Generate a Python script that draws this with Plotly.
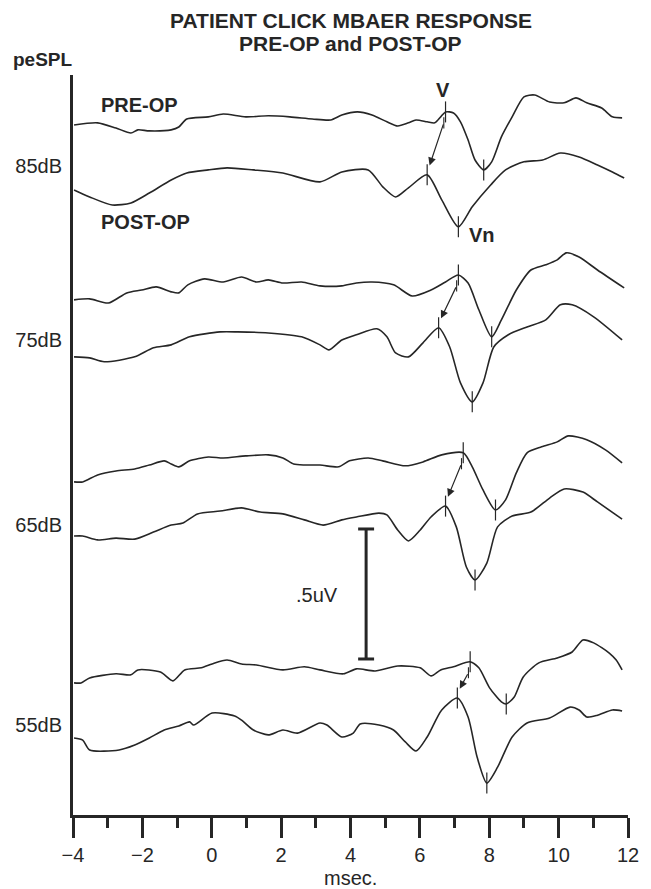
import numpy as np
import plotly.graph_objects as go

# ---------------------------------------------------------------------------
# Click MBAER sweeps: latency (ms) and amplitude (uV, relative to the first
# sample of each sweep).  One pre-op and one post-op sweep per level.
# ---------------------------------------------------------------------------
levels = ["85dB", "75dB", "65dB", "55dB"]

pre85_ms = [-3.97, -3.29, -2.76, -2.33, -2.13, -1.80, -1.17, -0.95, -0.72, -0.10, 0.33, 0.98, 1.63, 2.25,
            2.90, 3.43, 3.75, 4.20, 4.62, 5.05, 5.36, 5.67, 5.89, 6.21, 6.43, 6.60, 6.74, 6.97, 7.17, 7.39,
            7.59, 7.84, 8.07, 8.35, 8.66, 9.00, 9.31, 9.74, 10.16, 10.50, 10.81, 11.24, 11.55, 11.83]
pre85_uv = [0, .008, -.012, -.031, -.019, -.023, -.019, -.008, .023, .031, .042, .031, .035, .031,
            .023, .019, .038, .050, .038, .012, -.004, .008, .019, .012, .008, .031, .050, .046, .012, -.058,
            -.135, -.173, -.142, -.046, .031, .108, .115, .088, .085, .104, .085, .065, .031, .027]

post85_ms = [-3.97, -3.52, -2.87, -2.33, -1.80, -1.17, -0.72, -0.10, 0.44, 1.20, 2.05, 3.12, 3.75, 4.51,
             4.93, 5.30, 5.67, 6.21, 6.63, 7.11, 7.51, 8.04, 8.47, 9.00, 9.54, 10.05, 10.59, 11.12, 11.55, 11.89]
post85_uv = [0, -.027, -.058, -.050, -.012, .038, .065, .077, .085, .077, .065, .031, .069, .077,
             .012, -.027, .008, .058, -.038, -.142, -.065, .019, .077, .108, .115, .142, .127, .096, .069, .046]

pre75_ms = [-3.97, -3.52, -2.98, -2.45, -2.02, -1.60, -1.17, -0.95, -0.69, -0.21, 0.33, 0.86, 1.29, 1.63,
            2.05, 2.59, 3.12, 3.75, 4.17, 4.62, 5.24, 5.78, 6.32, 6.74, 7.11, 7.39, 7.70, 8.07, 8.35, 8.78,
            9.20, 9.63, 9.96, 10.22, 10.59, 11.12, 11.89]
pre75_uv = [0, .004, -.012, .027, .038, .050, .031, .027, .058, .081, .069, .088, .069, .077,
            .065, .069, .054, .054, .065, .069, .058, .015, .038, .069, .096, .065, -.038, -.142, -.077, .038,
            .115, .135, .154, .181, .165, .115, .046]

post75_ms = [-3.97, -3.52, -3.10, -2.22, -1.68, -1.17, -0.64, 0.24, 0.75, 1.63, 2.59, 3.12, 3.38, 3.75,
             4.17, 4.76, 5.05, 5.30, 5.67, 6.09, 6.54, 6.86, 7.17, 7.51, 7.82, 8.13, 8.55, 9.09, 9.63, 10.05,
             10.39, 11.01, 11.83]
post75_uv = [0, -.004, -.019, 0, .035, .046, .077, .096, .096, .092, .077, .046, .027, .065,
             .085, .108, .077, .015, 0, .054, .112, .038, -.100, -.173, -.100, .038, .085, .115, .142, .200,
             .200, .154, .065]

pre65_ms = [-3.97, -3.72, -3.29, -2.76, -2.22, -1.80, -1.37, -1.17, -0.95, -0.64, -0.10, 0.33, 0.98, 1.63,
            2.05, 2.36, 2.67, 3.12, 3.66, 3.97, 4.51, 4.93, 5.58, 6.09, 6.63, 7.25, 7.51, 7.82, 8.18, 8.47,
            8.78, 9.09, 9.51, 9.96, 10.28, 10.81, 11.35, 11.83]
pre65_uv = [0, 0, .027, .042, .050, .065, .081, .069, .058, .081, .096, .092, .100, .104,
            .092, .069, .065, .065, .058, .081, .092, .081, .062, .077, .104, .112, .058, -.031, -.108, -.069,
            .035, .112, .135, .154, .177, .162, .123, .073]

post65_ms = [-3.97, -3.72, -3.29, -2.76, -2.22, -1.68, -1.17, -0.83, -0.41, 0.24, 0.86, 1.40, 2.05, 2.67,
             3.21, 3.75, 4.17, 4.82, 5.05, 5.36, 5.67, 6.01, 6.32, 6.74, 7.05, 7.34, 7.59, 7.93, 8.24, 8.66,
             9.20, 9.74, 10.16, 10.70, 11.12, 11.83]
post65_uv = [0, 0, -.015, -.008, -.012, .015, .042, .050, .085, .096, .108, .092, .085, .062,
             .042, .062, .073, .088, .081, .023, -.019, .023, .073, .115, .035, -.119, -.169, -.104, .035, .077,
             .092, .146, .181, .169, .131, .065]

pre55_ms = [-3.97, -3.77, -3.52, -2.76, -2.33, -2.13, -1.48, -1.12, -0.78, -0.30, 0.01, 0.44, 0.86, 1.29,
            2.05, 2.67, 3.12, 3.80, 4.17, 4.71, 5.36, 6.01, 6.32, 6.60, 6.97, 7.45, 7.70, 8.01, 8.35, 8.49,
            8.72, 8.98, 9.43, 9.96, 10.39, 10.70, 11.01, 11.46, 11.66, 11.83]
pre55_uv = [0, 0, .019, .035, .031, .050, .042, .008, .050, .058, .073, .088, .073, .069,
            .050, .062, .050, .035, .054, .046, .065, .058, .027, .050, .062, .081, .058, -.019, -.073, -.081,
            -.054, .023, .077, .096, .119, .165, .154, .115, .088, .050]

post55_ms = [-3.97, -3.72, -3.52, -2.67, -2.22, -1.80, -1.37, -0.95, -0.64, -0.52, 0.01, 0.66, 0.86, 1.20,
             1.63, 2.05, 2.47, 3.12, 3.32, 3.75, 4.08, 4.28, 4.82, 5.24, 5.58, 5.89, 6.21, 6.63, 7.08, 7.39,
             7.65, 7.93, 8.24, 8.66, 9.09, 9.74, 10.33, 10.59, 10.81, 11.12, 11.55, 11.83]
post55_uv = [0, -.008, -.046, -.046, -.027, 0, .031, .046, .062, .050, .096, .085, .069, .031,
             .012, .031, .019, .058, .050, .004, .019, .054, .050, .031, -.015, -.050, .004, .108, .154, .081,
             -.073, -.173, -.112, .004, .058, .077, .119, .108, .081, .088, .108, .104]

# Marked peaks (ms): wave V and the following trough on each sweep
pre_v_ms = [6.74, 7.11, 7.25, 7.45]
pre_trough_ms = [7.84, 8.07, 8.18, 8.49]
post_v_ms = [6.21, 6.54, 6.74, 7.08]
post_vn_ms = [7.11, 7.51, 7.59, 7.93]

scale_bar_uv = 0.5
x_ticks = [-4, -2, 0, 2, 4, 6, 8, 10, 12]

# ---------------------------------------------------------------------------
# Stacking of the sweeps on the page (uV) and styling
# ---------------------------------------------------------------------------
pre_sweeps = [(pre85_ms, pre85_uv), (pre75_ms, pre75_uv), (pre65_ms, pre65_uv), (pre55_ms, pre55_uv)]
post_sweeps = [(post85_ms, post85_uv), (post75_ms, post75_uv), (post65_ms, post65_uv), (post55_ms, post55_uv)]
pre_base = [2.654, 1.981, 1.281, 0.508]
post_base = [2.404, 1.762, 1.073, 0.296]
level_label_y = [2.496, 1.827, 1.115, 0.346]
Y_TOP = 2.846
BAR_X, BAR_BOTTOM, CAP_HALF = 4.45, 0.60, 0.23

INK = "#262626"
FONT = "Liberation Sans, Arial, Helvetica, sans-serif"
TRACE_W = 1.6

fig = go.Figure()


def sweep_value(ms, uv, base, t):
    return float(np.interp(t, ms, uv)) + base


def add_sweep(ms, uv, base, marks):
    y = np.asarray(uv) + base
    fig.add_trace(go.Scatter(
        x=ms, y=y, mode="lines",
        line=dict(color=INK, width=TRACE_W, shape="spline", smoothing=0.7),
        hoverinfo="skip", showlegend=False))
    fig.add_trace(go.Scatter(
        x=marks, y=[sweep_value(ms, uv, base, t) for t in marks], mode="markers",
        marker=dict(symbol="line-ns", size=15, color=INK, line=dict(width=1.2, color=INK)),
        hoverinfo="skip", showlegend=False))


for i in range(len(levels)):
    ms, uv = pre_sweeps[i]
    add_sweep(ms, uv, pre_base[i], [pre_v_ms[i], pre_trough_ms[i]])
    ms2, uv2 = post_sweeps[i]
    add_sweep(ms2, uv2, post_base[i], [post_v_ms[i], post_vn_ms[i]])

    # arrow from the pre-op wave V to the post-op wave V
    tail_x = pre_v_ms[i] - 0.05
    tail_y = sweep_value(ms, uv, pre_base[i], pre_v_ms[i]) - 0.042
    head_x = post_v_ms[i] + 0.07
    head_y = sweep_value(ms2, uv2, post_base[i], post_v_ms[i]) + 0.036
    fig.add_trace(go.Scatter(
        x=[tail_x], y=[tail_y], mode="markers",
        marker=dict(symbol="line-ns", size=8, color=INK, line=dict(width=1.1, color=INK)),
        hoverinfo="skip", showlegend=False))
    fig.add_annotation(
        x=head_x, y=head_y, ax=tail_x, ay=tail_y, xref="x", yref="y", axref="x", ayref="y",
        showarrow=True, arrowhead=2, arrowsize=1.3, arrowwidth=1.2, arrowcolor=INK,
        standoff=0, startstandoff=0, text="")

# .5uV calibration bar
bar_top = BAR_BOTTOM + scale_bar_uv
fig.add_trace(go.Scatter(
    x=[BAR_X - CAP_HALF, BAR_X + CAP_HALF, None, BAR_X, BAR_X, None, BAR_X - CAP_HALF, BAR_X + CAP_HALF],
    y=[bar_top, bar_top, None, bar_top, BAR_BOTTOM, None, BAR_BOTTOM, BAR_BOTTOM],
    mode="lines", line=dict(color=INK, width=3), hoverinfo="skip", showlegend=False))
fig.add_annotation(x=BAR_X - 1.41, y=BAR_BOTTOM + scale_bar_uv * 0.49, text=".5uV", showarrow=False,
                   font=dict(family=FONT, size=20, color=INK), xanchor="center", yanchor="middle")

# text labels
bold = dict(family=FONT, size=20, color=INK, weight="bold")
fig.add_annotation(x=-3.24, y=2.731, text="PRE-OP", showarrow=False, font=bold,
                   xanchor="left", yanchor="middle")
fig.add_annotation(x=-3.24, y=2.281, text="POST-OP", showarrow=False, font=bold,
                   xanchor="left", yanchor="middle")
fig.add_annotation(x=pre_v_ms[0] - 0.06, y=2.788, text="V", showarrow=False, font=bold,
                   xanchor="center", yanchor="middle")
fig.add_annotation(x=post_vn_ms[0] + 0.68, y=2.231, text="Vn", showarrow=False, font=bold,
                   xanchor="center", yanchor="middle")

title_font = dict(family=FONT, size=21, color=INK, weight="bold")
fig.add_annotation(xref="paper", yref="paper", x=0.5, y=1.0743, text="PATIENT CLICK MBAER RESPONSE",
                   showarrow=False, font=title_font, xanchor="center", yanchor="middle")
fig.add_annotation(xref="paper", yref="paper", x=0.5, y=1.0419, text="PRE-OP and POST-OP",
                   showarrow=False, font=title_font, xanchor="center", yanchor="middle")
fig.add_annotation(xref="paper", yref="paper", x=-0.0548, y=1.0203, text="peSPL",
                   showarrow=False, font=dict(family=FONT, size=19, color=INK, weight="bold"),
                   xanchor="center", yanchor="middle")
fig.add_annotation(xref="paper", yref="paper", x=0.5, y=-0.0851, text="msec.",
                   showarrow=False, font=dict(family=FONT, size=20, color=INK),
                   xanchor="center", yanchor="middle")

fig.update_layout(
    width=651, height=889,
    margin=dict(l=73, r=12, t=75, b=74),
    paper_bgcolor="white", plot_bgcolor="white",
    font=dict(family=FONT, color=INK),
    xaxis=dict(
        range=[-4, 12], tickvals=x_ticks, showgrid=False, zeroline=False,
        showline=True, linewidth=3, linecolor=INK,
        ticks="outside", ticklen=20, tickwidth=3, tickcolor=INK,
        tickfont=dict(family=FONT, size=20, color=INK),
        minor=dict(dtick=1, ticks="outside", ticklen=10, tickwidth=3, tickcolor=INK),
    ),
    yaxis=dict(
        range=[0, Y_TOP], tickvals=level_label_y, ticktext=levels, showgrid=False, zeroline=False,
        showline=True, linewidth=3, linecolor=INK, ticks="",
        tickfont=dict(family=FONT, size=20, color=INK), ticklabelstandoff=4,
    ),
)

fig.write_html("out.html")
